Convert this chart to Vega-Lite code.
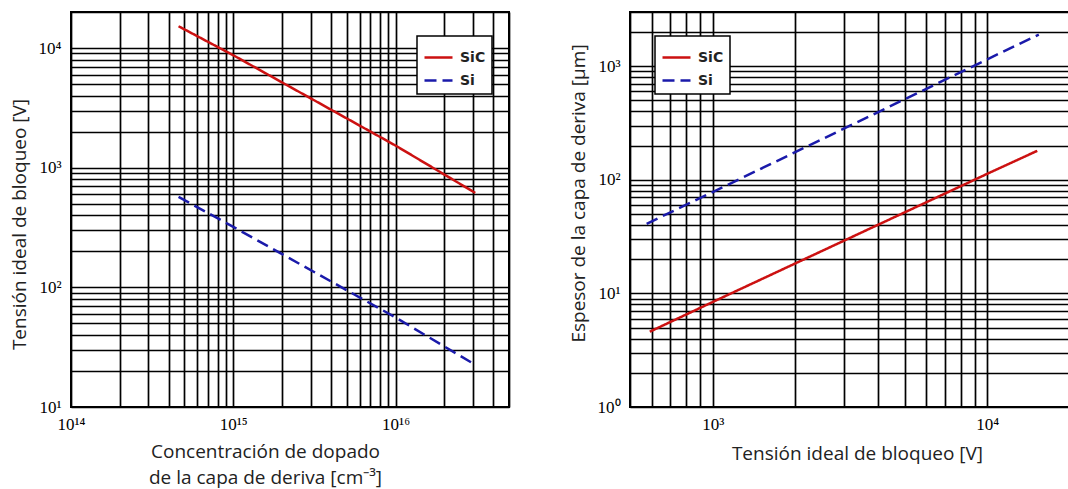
{
  "$schema": "https://vega.github.io/schema/vega-lite/v6.json",
  "background": "white",
  "padding": {"left": 9, "top": 2, "right": 0, "bottom": 0},
  "config": {
    "view": {"stroke": "black", "strokeWidth": 2},
    "axis": {
      "grid": true, "gridColor": "black", "gridWidth": 1.7, "gridOpacity": 1,
      "ticks": false, "domain": false,
      "labelFont": "Liberation Serif", "labelFontSize": 17, "labelColor": "black",
      "titleFont": "Open Sans", "titleFontSize": 19, "titleFontWeight": "normal", "titleColor": "#222",
      "labelOverlap": false, "labelFlush": false, "labelBound": false
    },
    "legend": {
      "orient": "none", "fillColor": "white", "strokeColor": "black", "strokeWidth": 1.5,
      "padding": 6, "symbolType": "stroke", "symbolSize": 784, "symbolStrokeWidth": 2.5,
      "labelFont": "DejaVu Sans", "labelFontSize": 14, "labelFontWeight": "bold", "labelColor": "#222",
      "rowPadding": 0, "labelOffset": 6, "title": null
    }
  },
  "datasets": {
    "dopado": [
      {"N": 4.6e14, "V": 15200, "material": "SiC"},
      {"N": 1e15, "V": 8700, "material": "SiC"},
      {"N": 1e16, "V": 1530, "material": "SiC"},
      {"N": 3.1e16, "V": 615, "material": "SiC"},
      {"N": 4.6e14, "V": 570, "material": "Si"},
      {"N": 1e15, "V": 320, "material": "Si"},
      {"N": 1e16, "V": 56, "material": "Si"},
      {"N": 3.1e16, "V": 22.5, "material": "Si"}
    ],
    "espesor": [
      {"V": 590, "W": 4.6, "material": "SiC"},
      {"V": 1000, "W": 8.4, "material": "SiC"},
      {"V": 10000, "W": 113, "material": "SiC"},
      {"V": 15200, "W": 180, "material": "SiC"},
      {"V": 575, "W": 41, "material": "Si"},
      {"V": 1000, "W": 78, "material": "Si"},
      {"V": 10000, "W": 1150, "material": "Si"},
      {"V": 15400, "W": 1900, "material": "Si"}
    ]
  },
  "spacing": 58,
  "resolve": {"legend": {"color": "independent", "strokeDash": "independent"}},
  "hconcat": [
    {
      "width": 438, "height": 395,
      "data": {"name": "dopado"},
      "mark": {"type": "line", "strokeWidth": 2.5, "clip": true},
      "encoding": {
        "x": {
          "field": "N", "type": "quantitative",
          "scale": {"type": "log", "domain": [1e14, 5e16], "nice": false},
          "axis": {
            "values": [1e14, 2e14, 3e14, 4e14, 5e14, 6e14, 7e14, 8e14, 9e14, 1e15, 2e15, 3e15, 4e15, 5e15, 6e15, 7e15, 8e15, 9e15, 1e16, 2e16, 3e16, 4e16, 5e16],
            "labelExpr": "abs(log(datum.value)/LN10 - round(log(datum.value)/LN10)) > 0.001 ? '' : '10' + (round(log(datum.value)/LN10) >= 10 ? ['⁰','¹','²','³','⁴','⁵','⁶','⁷','⁸','⁹'][floor(round(log(datum.value)/LN10)/10)] : '') + ['⁰','¹','²','³','⁴','⁵','⁶','⁷','⁸','⁹'][round(log(datum.value)/LN10) % 10]",
            "labelPadding": 9,
            "title": ["Concentración de dopado", "de la capa de deriva [cm⁻³]"],
            "titleLineHeight": 26, "titlePadding": 10, "titleX": 194
          }
        },
        "y": {
          "field": "V", "type": "quantitative",
          "scale": {"type": "log", "domain": [10, 20000], "nice": false},
          "axis": {
            "values": [10, 20, 30, 40, 50, 60, 70, 80, 90, 100, 200, 300, 400, 500, 600, 700, 800, 900, 1000, 2000, 3000, 4000, 5000, 6000, 7000, 8000, 9000, 10000, 20000],
            "labelExpr": "abs(log(datum.value)/LN10 - round(log(datum.value)/LN10)) > 0.001 ? '' : '10' + (round(log(datum.value)/LN10) >= 10 ? ['⁰','¹','²','³','⁴','⁵','⁶','⁷','⁸','⁹'][floor(round(log(datum.value)/LN10)/10)] : '') + ['⁰','¹','²','³','⁴','⁵','⁶','⁷','⁸','⁹'][round(log(datum.value)/LN10) % 10]",
            "labelPadding": 10,
            "title": "Tensión ideal de bloqueo [V]",
            "titlePadding": 9, "titleY": 212
          }
        },
        "color": {
          "field": "material", "type": "nominal",
          "scale": {"domain": ["SiC", "Si"], "range": ["#cc1111", "#1a1aaa"]},
          "legend": {"legendX": 346, "legendY": 24}
        },
        "strokeDash": {
          "field": "material", "type": "nominal",
          "scale": {"domain": ["SiC", "Si"], "range": [[1, 0], [12, 6]]},
          "legend": {"legendX": 346, "legendY": 24}
        }
      }
    },
    {
      "width": 440, "height": 395,
      "data": {"name": "espesor"},
      "mark": {"type": "line", "strokeWidth": 2.5, "clip": true},
      "encoding": {
        "x": {
          "field": "V", "type": "quantitative",
          "scale": {"type": "log", "domain": [500, 20000], "nice": false},
          "axis": {
            "values": [500, 600, 700, 800, 900, 1000, 2000, 3000, 4000, 5000, 6000, 7000, 8000, 9000, 10000, 20000],
            "labelExpr": "abs(log(datum.value)/LN10 - round(log(datum.value)/LN10)) > 0.001 ? '' : '10' + (round(log(datum.value)/LN10) >= 10 ? ['⁰','¹','²','³','⁴','⁵','⁶','⁷','⁸','⁹'][floor(round(log(datum.value)/LN10)/10)] : '') + ['⁰','¹','²','³','⁴','⁵','⁶','⁷','⁸','⁹'][round(log(datum.value)/LN10) % 10]",
            "labelPadding": 9,
            "title": "Tensión ideal de bloqueo [V]",
            "titlePadding": 12, "titleX": 227
          }
        },
        "y": {
          "field": "W", "type": "quantitative",
          "scale": {"type": "log", "domain": [1, 3000], "nice": false},
          "axis": {
            "values": [1, 2, 3, 4, 5, 6, 7, 8, 9, 10, 20, 30, 40, 50, 60, 70, 80, 90, 100, 200, 300, 400, 500, 600, 700, 800, 900, 1000, 2000, 3000],
            "labelExpr": "abs(log(datum.value)/LN10 - round(log(datum.value)/LN10)) > 0.001 ? '' : '10' + (round(log(datum.value)/LN10) >= 10 ? ['⁰','¹','²','³','⁴','⁵','⁶','⁷','⁸','⁹'][floor(round(log(datum.value)/LN10)/10)] : '') + ['⁰','¹','²','³','⁴','⁵','⁶','⁷','⁸','⁹'][round(log(datum.value)/LN10) % 10]",
            "labelPadding": 10,
            "title": "Espesor de la capa de deriva [µm]",
            "titlePadding": 9, "titleY": 181
          }
        },
        "color": {
          "field": "material", "type": "nominal",
          "scale": {"domain": ["SiC", "Si"], "range": ["#cc1111", "#1a1aaa"]},
          "legend": {"legendX": 25, "legendY": 24}
        },
        "strokeDash": {
          "field": "material", "type": "nominal",
          "scale": {"domain": ["SiC", "Si"], "range": [[1, 0], [12, 6]]},
          "legend": {"legendX": 25, "legendY": 24}
        }
      }
    }
  ]
}
